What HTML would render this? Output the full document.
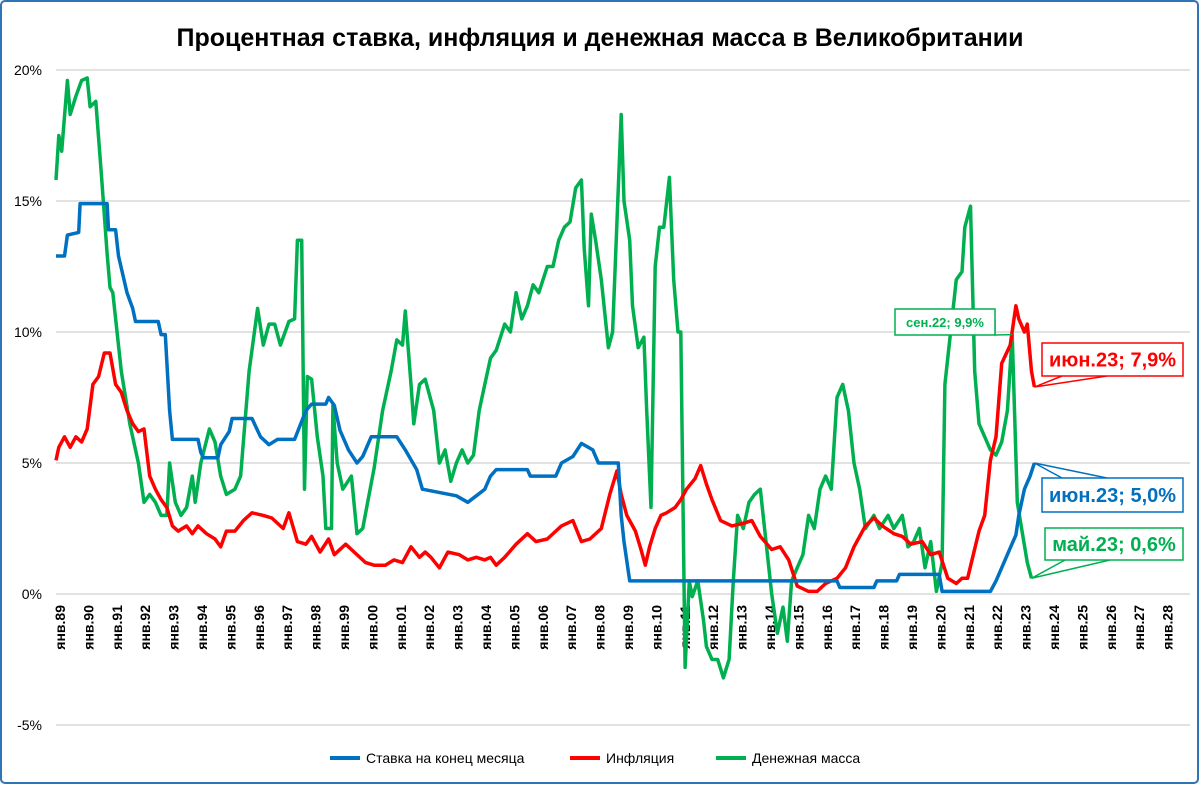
<!DOCTYPE html>
<html><head><meta charset="utf-8"><style>
html,body{margin:0;padding:0;background:#fff}
#wrap{position:relative;width:1200px;height:785px;overflow:hidden;font-family:"Liberation Sans","DejaVu Sans",sans-serif}
</style></head><body>
<div id="wrap">
<svg id="chart" width="1200" height="785" xmlns="http://www.w3.org/2000/svg">
<rect x="1" y="1" width="1197" height="782" rx="4" fill="#fff" stroke="#2e75b6" stroke-width="2"/>
<text x="600" y="46" text-anchor="middle" font-size="25" font-weight="bold" fill="#000" font-family="Liberation Sans, DejaVu Sans, sans-serif">Процентная ставка, инфляция и денежная масса в Великобритании</text>
<g id="grid"></g><g id="xlab"></g><g id="series"></g><g id="ann"></g>
<g font-size="14" font-family="Liberation Sans, DejaVu Sans, sans-serif">
<line x1="330" y1="758" x2="360" y2="758" stroke="#0070c0" stroke-width="4"/>
<text x="366" y="763">Ставка на конец месяца</text>
<line x1="570" y1="758" x2="600" y2="758" stroke="#ff0000" stroke-width="4"/>
<text x="606" y="763">Инфляция</text>
<line x1="716" y1="758" x2="746" y2="758" stroke="#00b050" stroke-width="4"/>
<text x="752" y="763">Денежная масса</text>
</g>
</svg>
</div>
<script>
const yTicks=[20,15,10,5,0,-5];
const yTickLabels=["20%","15%","10%","5%","0%","-5%"];
const xYears=[];for(let y=1989;y<=2028;y++)xYears.push(y);
const rateT=[1989.0,1989.3,1989.4,1989.8,1989.85,1990.8,1990.85,1991.1,1991.2,1991.5,1991.7,1991.8,1992.6,1992.7,1992.85,1993.0,1993.1,1994.0,1994.1,1994.2,1994.7,1994.8,1995.1,1995.2,1995.9,1996.2,1996.5,1996.8,1997.4,1997.8,1998.0,1998.5,1998.6,1998.8,1999.0,1999.3,1999.6,1999.8,2000.1,2001.0,2001.3,2001.7,2001.9,2003.1,2003.5,2003.8,2004.1,2004.3,2004.5,2005.6,2005.7,2006.6,2006.8,2007.2,2007.5,2007.9,2008.1,2008.8,2008.9,2009.0,2009.2,2016.5,2016.6,2017.8,2017.9,2018.6,2018.7,2020.1,2020.2,2021.9,2022.1,2022.3,2022.6,2022.8,2022.9,2023.1,2023.3,2023.45];
const rateV=[12.9,12.9,13.7,13.8,14.9,14.9,13.9,13.9,12.9,11.5,10.9,10.4,10.4,9.9,9.9,7.0,5.9,5.9,5.4,5.2,5.2,5.7,6.2,6.7,6.7,6.0,5.7,5.9,5.9,7.0,7.25,7.25,7.5,7.2,6.25,5.5,5.0,5.25,6.0,6.0,5.5,4.75,4.0,3.75,3.5,3.75,4.0,4.5,4.75,4.75,4.5,4.5,5.0,5.25,5.75,5.5,5.0,5.0,3.0,2.0,0.5,0.5,0.25,0.25,0.5,0.5,0.75,0.75,0.1,0.1,0.5,1.0,1.75,2.25,3.0,4.0,4.5,5.0];
const inflT=[1989.0,1989.1,1989.3,1989.5,1989.7,1989.9,1990.1,1990.3,1990.5,1990.7,1990.9,1991.1,1991.3,1991.5,1991.7,1991.9,1992.1,1992.3,1992.5,1992.7,1992.9,1993.1,1993.3,1993.6,1993.8,1994.0,1994.3,1994.6,1994.8,1995.0,1995.3,1995.6,1995.9,1996.3,1996.6,1997.0,1997.2,1997.5,1997.8,1998.0,1998.3,1998.6,1998.8,1999.2,1999.5,1999.9,2000.2,2000.6,2000.9,2001.2,2001.5,2001.8,2002.0,2002.2,2002.5,2002.8,2003.2,2003.5,2003.8,2004.1,2004.3,2004.5,2004.8,2005.2,2005.6,2005.9,2006.3,2006.6,2006.8,2007.2,2007.5,2007.8,2008.2,2008.5,2008.75,2008.9,2009.1,2009.4,2009.6,2009.75,2009.9,2010.1,2010.3,2010.5,2010.8,2011.0,2011.2,2011.5,2011.7,2011.9,2012.1,2012.4,2012.8,2013.2,2013.5,2013.8,2014.2,2014.5,2014.8,2015.1,2015.5,2015.8,2016.1,2016.5,2016.8,2017.1,2017.5,2017.8,2018.1,2018.5,2018.8,2019.1,2019.5,2019.8,2020.1,2020.4,2020.7,2020.9,2021.1,2021.3,2021.5,2021.7,2021.9,2022.1,2022.3,2022.6,2022.8,2022.9,2023.1,2023.2,2023.35,2023.45];
const inflV=[5.1,5.6,6.0,5.6,6.0,5.8,6.3,8.0,8.3,9.2,9.2,8.0,7.7,7.0,6.5,6.2,6.3,4.5,4.0,3.6,3.3,2.6,2.4,2.6,2.3,2.6,2.3,2.1,1.8,2.4,2.4,2.8,3.1,3.0,2.9,2.5,3.1,2.0,1.9,2.2,1.6,2.1,1.5,1.9,1.6,1.2,1.1,1.1,1.3,1.2,1.8,1.4,1.6,1.4,1.0,1.6,1.5,1.3,1.4,1.3,1.4,1.1,1.4,1.9,2.3,2.0,2.1,2.4,2.6,2.8,2.0,2.1,2.5,3.8,4.7,3.8,3.0,2.4,1.7,1.1,1.8,2.5,3.0,3.1,3.3,3.6,4.0,4.4,4.9,4.2,3.6,2.8,2.6,2.7,2.8,2.2,1.7,1.8,1.3,0.3,0.1,0.1,0.4,0.6,1.0,1.8,2.6,2.9,2.6,2.3,2.2,1.9,2.0,1.5,1.6,0.6,0.4,0.6,0.6,1.5,2.4,3.0,5.1,6.0,8.8,9.5,11.0,10.5,10.0,10.3,8.5,7.9];
const moneyT=[1989.0,1989.1,1989.2,1989.4,1989.5,1989.7,1989.9,1990.1,1990.2,1990.4,1990.6,1990.8,1990.9,1991.0,1991.3,1991.6,1991.9,1992.1,1992.3,1992.5,1992.7,1992.9,1993.0,1993.2,1993.4,1993.6,1993.8,1993.9,1994.1,1994.4,1994.6,1994.8,1995.0,1995.3,1995.5,1995.8,1996.1,1996.3,1996.5,1996.7,1996.9,1997.2,1997.4,1997.5,1997.65,1997.75,1997.85,1998.0,1998.2,1998.4,1998.5,1998.7,1998.75,1998.9,1999.1,1999.4,1999.6,1999.8,2000.2,2000.5,2000.8,2001.0,2001.2,2001.3,2001.5,2001.6,2001.8,2002.0,2002.3,2002.5,2002.7,2002.9,2003.1,2003.3,2003.5,2003.7,2003.9,2004.1,2004.3,2004.5,2004.8,2005.0,2005.2,2005.4,2005.6,2005.8,2006.0,2006.3,2006.5,2006.7,2006.9,2007.1,2007.3,2007.5,2007.6,2007.75,2007.85,2008.0,2008.2,2008.45,2008.6,2008.9,2009.0,2009.2,2009.3,2009.5,2009.7,2009.8,2009.95,2010.1,2010.25,2010.4,2010.6,2010.75,2010.9,2011.0,2011.15,2011.3,2011.4,2011.6,2011.8,2011.9,2012.1,2012.3,2012.5,2012.7,2012.85,2013.0,2013.2,2013.4,2013.6,2013.8,2014.0,2014.2,2014.4,2014.6,2014.75,2014.9,2015.1,2015.3,2015.5,2015.7,2015.9,2016.1,2016.3,2016.5,2016.7,2016.9,2017.1,2017.3,2017.5,2017.8,2018.0,2018.3,2018.5,2018.8,2019.0,2019.2,2019.4,2019.6,2019.8,2020.0,2020.2,2020.3,2020.5,2020.7,2020.9,2021.0,2021.2,2021.35,2021.5,2021.7,2021.9,2022.1,2022.3,2022.5,2022.67,2022.85,2023.0,2023.2,2023.35];
const moneyV=[15.8,17.5,16.9,19.6,18.3,19.0,19.6,19.7,18.6,18.8,16,13,11.7,11.5,8.5,6.5,5.0,3.5,3.8,3.5,3.0,3.0,5.0,3.5,3.0,3.3,4.5,3.5,5.0,6.3,5.8,4.5,3.8,4.0,4.5,8.5,10.9,9.5,10.3,10.3,9.5,10.4,10.5,13.5,13.5,4.0,8.3,8.2,6.0,4.5,2.5,2.5,7.2,5.0,4.0,4.5,2.3,2.5,4.8,7.0,8.5,9.7,9.5,10.8,8.0,6.5,8.0,8.2,7.0,5.0,5.5,4.3,5.0,5.5,5.0,5.3,7.0,8.0,9.0,9.3,10.3,10.0,11.5,10.5,11.0,11.8,11.5,12.5,12.5,13.5,14.0,14.2,15.5,15.8,13.2,11.0,14.5,13.5,12.0,9.4,10.0,18.3,15.0,13.5,11.0,9.4,9.8,7.0,3.3,12.5,14.0,14.0,15.9,12.0,10.0,10.0,-2.8,0.5,-0.1,0.5,-1.0,-2.0,-2.5,-2.5,-3.2,-2.5,0.5,3.0,2.5,3.5,3.8,4.0,2.0,0.0,-1.5,-0.5,-1.8,0.5,1.0,1.5,3.0,2.5,4.0,4.5,4.0,7.5,8.0,7.0,5.0,4.0,2.5,3.0,2.5,3.0,2.5,3.0,1.8,2.0,2.5,1.0,2.0,0.1,1.2,8.0,10.0,12.0,12.3,14.0,14.8,8.5,6.5,6.0,5.5,5.3,5.8,7.0,9.9,3.5,2.5,1.2,0.6];

const NS="http://www.w3.org/2000/svg";
function xS(t){return 56+(t-1989)*28.4;}
function yS(v){return 594-v*26.2;}
function mk(tag,attrs,parent){const e=document.createElementNS(NS,tag);for(const k in attrs)e.setAttribute(k,attrs[k]);parent.appendChild(e);return e;}
const grid=document.getElementById('grid');
yTicks.forEach((v,i)=>{
  const l=mk('line',{x1:56,x2:1190,y1:yS(v),y2:yS(v),stroke:'#d9d9d9','stroke-width':1.5},grid);
  
  
  const t=mk('text',{x:42,y:yS(v)+5,'text-anchor':'end','font-size':14,fill:'#000'},grid);
  t.textContent=yTickLabels[i];
  
  
});
const xl=document.getElementById('xlab');
xYears.forEach(y=>{
  const x=xS(y)+9;
  const t=mk('text',{x:0,y:0,transform:`translate(${x},605) rotate(-90)`,'text-anchor':'end','font-size':14,'font-weight':'bold',fill:'#000'},xl);
  t.textContent='янв.'+String(y%100).padStart(2,'0');
  
  
});
const sg=document.getElementById('series');
function line(T,V,color,name){
  const d=T.map((t,i)=>(i?'L':'M')+xS(t).toFixed(1)+','+yS(V[i]).toFixed(1)).join('');
  const p=mk('path',{d:d,fill:'none',stroke:color,'stroke-width':3.5,'stroke-linejoin':'round'},sg);
  
  
}
line(moneyT,moneyV,'#00b050','money-supply-line');
line(inflT,inflV,'#ff0000','inflation-line');
line(rateT,rateV,'#0070c0','rate-line');
const ann=document.getElementById('ann');
(function(){
  const px=xS(2022.67),py=yS(9.9);
  const g=mk('g',{},ann);
  
  
  mk('polyline',{points:`${px},${py} ${995},${335} ${995},${320}`,fill:'none',stroke:'#00b050','stroke-width':1.5},g);
  mk('rect',{x:895,y:309,width:100,height:26,fill:'#fff',stroke:'#00b050','stroke-width':1.5},g);
  const t=mk('text',{x:945,y:327,'text-anchor':'middle','font-size':13,'font-weight':'bold',fill:'#00b050'},g);
  t.textContent='сен.22; 9,9%';
})();
function box(px,py,bx,by,bw,bh,txt,color,name){
  const g=mk('g',{},ann);
  
  
  const ey=by+(py<by?0:bh);
  mk('polyline',{points:`${bx+20},${ey} ${px},${py} ${bx+65},${ey}`,fill:'#fff',stroke:color,'stroke-width':1.5},g);
  mk('rect',{x:bx,y:by,width:bw,height:bh,fill:'#fff',stroke:color,'stroke-width':1.5},g);
  const t=mk('text',{x:bx+bw/2,y:by+bh/2+7,'text-anchor':'middle','font-size':20,'font-weight':'bold',fill:color},g);
  t.textContent=txt;
}
box(xS(2023.45),yS(7.9),1042,343,141,33,'июн.23; 7,9%','#ff0000','inflation-jun23-callout');
box(xS(2023.45),yS(5.0),1042,478,141,34,'июн.23; 5,0%','#0070c0','rate-jun23-callout');
box(xS(2023.35),yS(0.6),1045,528,138,32,'май.23; 0,6%','#00b050','money-may23-callout');
</script>
</body></html>
